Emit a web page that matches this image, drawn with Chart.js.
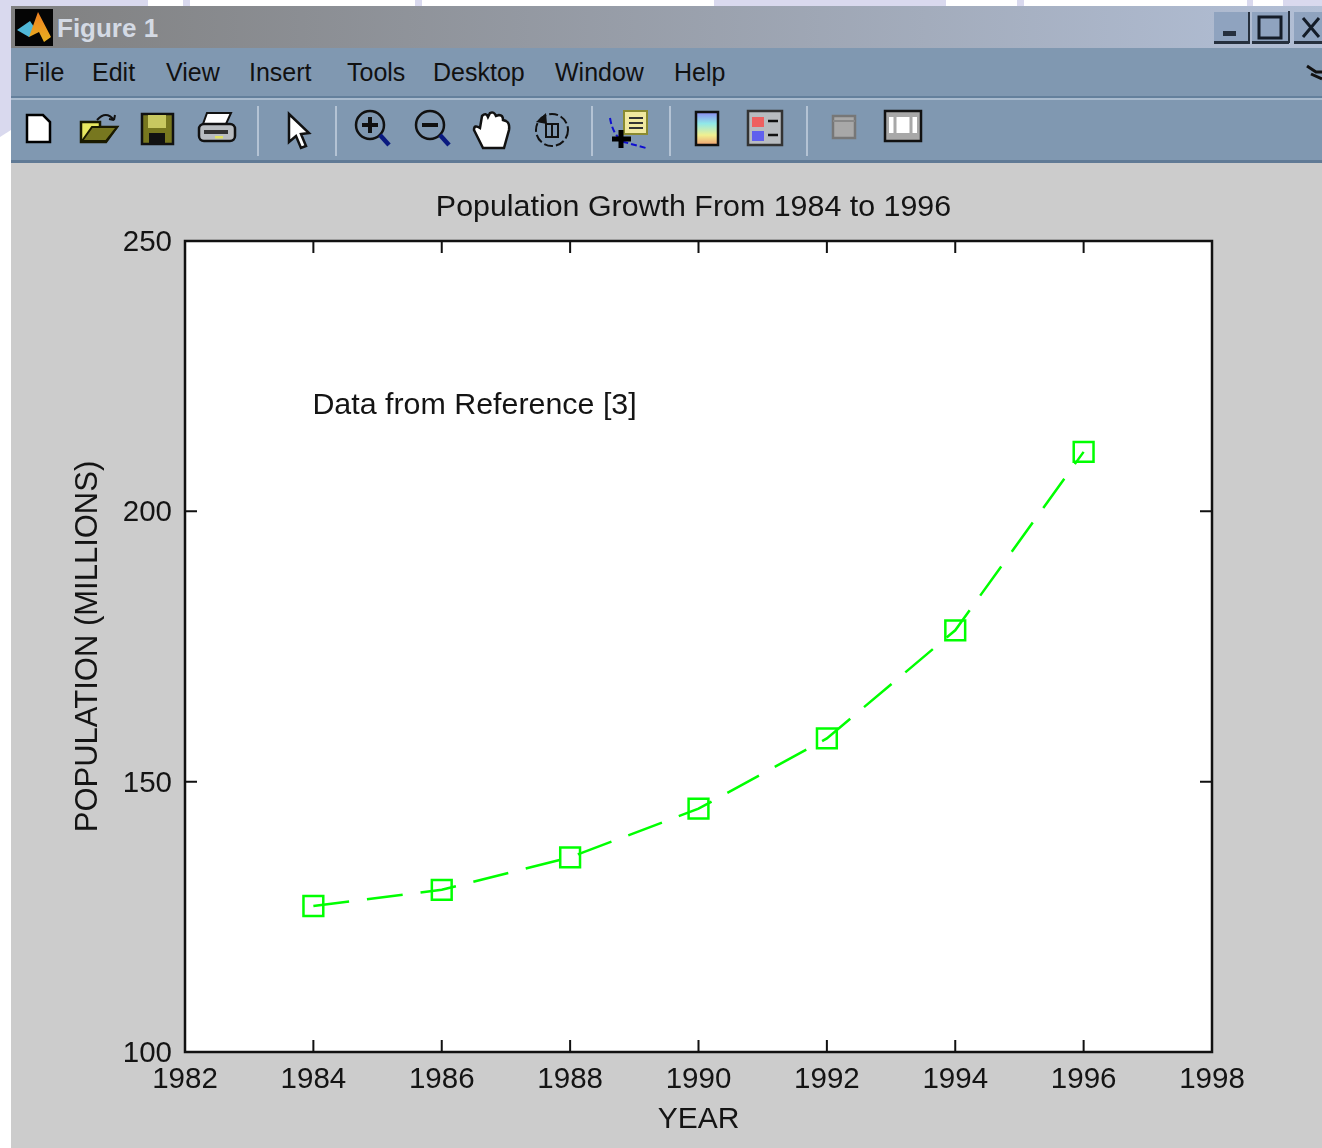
<!DOCTYPE html>
<html>
<head>
<meta charset="utf-8">
<title>Figure 1</title>
<script src="https://cdn.jsdelivr.net/npm/chart.js@4/dist/chart.umd.min.js"></script>
<style>
  html, body { margin: 0; padding: 0; background: #fff; }
  #page { position: relative; width: 1322px; height: 1148px; overflow: hidden; background: #fff; font-family: "Liberation Sans", sans-serif; }
  #page div, #page svg, #page canvas { position: absolute; }
  .lav { background: #d9d9ee; top: 0; height: 6px; }
  #titlebar { left: 11px; top: 6px; width: 1311px; height: 42px; background: linear-gradient(to right, #808080, #b2bfd6); }
  #titletext { left: 57px; top: 13px; color: #d4dae4; font: bold 26px "Liberation Sans", sans-serif; }
  #menubar { left: 11px; top: 48px; width: 1311px; height: 49px; background: #8098b1; }
  #toolbar { left: 11px; top: 96px; width: 1311px; height: 67px; background: #8098b1; border-top: 2px solid #64809c; border-bottom: 3px solid #607a95; box-sizing: border-box; box-shadow: inset 0 2px 0 #a9bbce; }
  #figure { left: 11px; top: 163px; width: 1311px; height: 985px; background: #cccccc; }
  .menu { top: 57px; font-size: 25px; line-height: 30px; color: #111; }
  #icons { left: 0; top: 0; filter: blur(0.5px); }
  #chart { left: 0; top: 0; filter: blur(0.4px); }
</style>
</head>
<body>
<div id="page">
  <svg style="left:0;top:0" width="11" height="140"><polygon points="0,0 11,0 11,130 0,137" fill="#d9d9ee"/></svg>
  <div class="lav" style="left:0;width:148px"></div>
  <div class="lav" style="left:183px;width:7px"></div>
  <div class="lav" style="left:415px;width:7px"></div>
  <div class="lav" style="left:714px;width:232px"></div>
  <div class="lav" style="left:1017px;width:7px"></div>
  <div class="lav" style="left:1247px;width:6px"></div>
  <div class="lav" style="left:1283px;width:39px"></div>

  <div id="titlebar"></div>
  <div id="titletext">Figure 1</div>
  <div id="menubar"></div>
  <div id="toolbar"></div>
  <div id="figure"></div>

  <div class="menu" style="left:24px">File</div>
  <div class="menu" style="left:92px">Edit</div>
  <div class="menu" style="left:166px">View</div>
  <div class="menu" style="left:249px">Insert</div>
  <div class="menu" style="left:347px">Tools</div>
  <div class="menu" style="left:433px">Desktop</div>
  <div class="menu" style="left:555px">Window</div>
  <div class="menu" style="left:674px">Help</div>

  <!-- window buttons and toolbar icons -->
  <svg id="icons" width="1322" height="165">
    <defs>
      <linearGradient id="cbar" x1="0" y1="0" x2="0" y2="1">
        <stop offset="0" stop-color="#8a8af0"/><stop offset=".35" stop-color="#90e8e8"/>
        <stop offset=".7" stop-color="#f0f090"/><stop offset="1" stop-color="#f0a070"/>
      </linearGradient>
      <linearGradient id="peak" x1="0" y1="0" x2="0" y2="1">
        <stop offset="0" stop-color="#f08020"/><stop offset="1" stop-color="#e8b020"/>
      </linearGradient>
    </defs>
    <!-- matlab logo -->
    <rect x="15" y="9" width="38" height="37" fill="#050505"/>
    <path d="M17 30 L30 21 L36 30 L29 37 Z" fill="#50b8d8"/>
    <path d="M29 37 L38 12 L51 37 L44 42 L39 32 Z" fill="url(#peak)"/>

    <!-- window buttons -->
    <g fill="#8fa3bf">
      <rect x="1214" y="12" width="36" height="31"/><rect x="1252" y="12" width="37" height="31"/><rect x="1294" y="12" width="28" height="31"/>
    </g>
    <g fill="#26303e">
      <rect x="1214" y="41" width="36" height="3"/><rect x="1252" y="41" width="37" height="3"/><rect x="1294" y="41" width="28" height="3"/>
      <rect x="1248" y="12" width="2" height="31"/><rect x="1288" y="11" width="2" height="32"/>
      <rect x="1223" y="31" width="13" height="5"/>
    </g>
    <rect x="1259" y="17" width="22" height="21" fill="none" stroke="#141c28" stroke-width="3"/>
    <path d="M1303 18 L1319 37 M1319 18 L1303 37" stroke="#141c28" stroke-width="3"/>
    <path d="M1307 66 L1316 72 L1322 72 M1311 74 L1322 79" stroke="#111" stroke-width="3" fill="none"/>

    <!-- separators -->
    <g fill="#b4c3d4">
      <rect x="257" y="106" width="2" height="50"/><rect x="335" y="106" width="2" height="50"/><rect x="591" y="106" width="2" height="50"/>
      <rect x="669" y="106" width="2" height="50"/><rect x="806" y="106" width="2" height="50"/>
    </g>

    <!-- new file -->
    <path d="M27 115 H43 L50 122 V142 H27 Z" fill="#fff" stroke="#000" stroke-width="2.5"/>
    <!-- open -->
    <path d="M81 141 V122 H100 V127 H117 L106 142 H81 Z" fill="#e8e860" stroke="#1a1a00" stroke-width="2.5"/>
    <path d="M82 141 L92 127 H117 L106 141 Z" fill="#77771f" stroke="#1a1a00" stroke-width="2"/>
    <path d="M97 120 Q106 110 114 120 M114 120 l-5 -1 M114 120 l1 -5" fill="none" stroke="#111" stroke-width="2"/>
    <!-- save -->
    <rect x="142" y="114" width="31" height="30" fill="#77771f" stroke="#111" stroke-width="2.5"/>
    <rect x="148" y="115" width="18" height="13" fill="#c8c860"/>
    <rect x="149" y="133" width="16" height="11" fill="#111"/>
    <!-- print -->
    <path d="M207 113 H231 L226 124 H203 Z" fill="#fff" stroke="#111" stroke-width="2"/>
    <rect x="199" y="124" width="36" height="17" rx="5" fill="#b8bcc0" stroke="#111" stroke-width="2.5"/>
    <rect x="204" y="130" width="24" height="4" fill="#333"/>
    <rect x="215" y="136" width="8" height="2.5" fill="#e0e060"/>
    <!-- pointer -->
    <path d="M289 114 V142 L296 136 L301 148 L306 146 L301 134 L309 133 Z" fill="#fff" stroke="#111" stroke-width="2.5"/>
    <!-- zoom in -->
    <circle cx="370" cy="125" r="14" fill="none" stroke="#111" stroke-width="2.5"/>
    <path d="M362 125 H378 M370 117 V133" stroke="#111" stroke-width="4"/>
    <path d="M380 135 L389 145" stroke="#0a1a80" stroke-width="4.5"/>
    <!-- zoom out -->
    <circle cx="430" cy="125" r="14" fill="none" stroke="#111" stroke-width="2.5"/>
    <path d="M422 125 H438" stroke="#111" stroke-width="4"/>
    <path d="M440 135 L449 145" stroke="#0a1a80" stroke-width="4.5"/>
    <!-- hand -->
    <path d="M483 148 L474 130 Q474 124 480 128 L482 116 Q486 112 488 117 L490 113 Q494 111 496 116 L499 115 Q503 115 503 120 L506 121 Q510 123 509 130 L504 148 Z" fill="#fff" stroke="#111" stroke-width="2.5"/>
    <!-- rotate -->
    <circle cx="552" cy="130" r="16" fill="none" stroke="#111" stroke-width="2" stroke-dasharray="9 3"/>
    <path d="M536 122 L546 113 L547 124 Z" fill="#111"/>
    <rect x="546" y="124" width="12" height="13" fill="none" stroke="#111" stroke-width="2"/>
    <path d="M552 124 V137" stroke="#111" stroke-width="2"/>
    <!-- data cursor / insert annotation -->
    <path d="M610 118 Q613 136 624 142 L646 148" fill="none" stroke="#0f0fd0" stroke-width="2" stroke-dasharray="6 3"/>
    <rect x="624" y="111" width="23" height="23" fill="#f0e8a0" stroke="#8a8a30" stroke-width="2"/>
    <path d="M629 118 H643 M629 123 H643 M629 128 H643" stroke="#333" stroke-width="2"/>
    <path d="M612 139 H631 M621 130 V148" stroke="#000" stroke-width="5"/>
    <!-- colorbar -->
    <rect x="696" y="112" width="22" height="33" fill="url(#cbar)" stroke="#111" stroke-width="2.5"/>
    <!-- legend -->
    <rect x="748" y="111" width="34" height="34" fill="#b8bcc0" stroke="#333" stroke-width="2.5"/>
    <rect x="752" y="117" width="12" height="10" fill="#ee6060"/><rect x="752" y="131" width="12" height="10" fill="#6060ee"/>
    <path d="M768 121 H778 M768 135 H778" stroke="#111" stroke-width="2.5"/>
    <!-- hide/show plot tools -->
    <rect x="833" y="116" width="22" height="22" fill="#a8a8a8" stroke="#777" stroke-width="2.5"/>
    <path d="M833 121 H855" stroke="#888" stroke-width="2"/>
    <rect x="885" y="111" width="36" height="30" fill="#a8a8a8" stroke="#111" stroke-width="2.5"/>
    <rect x="889" y="117" width="28" height="16" fill="#fff"/>
    <path d="M895 117 V133 M911 117 V133" stroke="#a8a8a8" stroke-width="3"/>
  </svg>

  <canvas id="chart" width="1322" height="1148"></canvas>
</div>

<script>
// values
const years = [1984, 1986, 1988, 1990, 1992, 1994, 1996];
const population = [127, 130, 136, 145, 158, 178, 211];

const chartTitle = 'Population Growth From 1984 to 1996';
const xLabel = 'YEAR';
const yLabel = 'POPULATION (MILLIONS)';
const note = 'Data from Reference [3]';
const noteAt = { x: 1984, y: 220 };

const fontName = '"Liberation Sans", sans-serif';
const textColor = '#141414';

// white plot area, box round it and inward ticks on all four sides
const matlabAxes = {
  id: 'matlabAxes',
  beforeDatasetsDraw(chart) {
    const a = chart.chartArea;
    const c = chart.ctx;
    c.save();
    c.fillStyle = '#fff';
    c.fillRect(a.left, a.top, a.right - a.left, a.bottom - a.top);
    c.restore();
  },
  afterDatasetsDraw(chart) {
    const a = chart.chartArea;
    const c = chart.ctx;
    const len = 12;
    c.save();
    c.strokeStyle = '#111';
    c.lineWidth = 2.5;
    c.strokeRect(a.left, a.top, a.right - a.left, a.bottom - a.top);
    c.beginPath();
    chart.scales.x.ticks.forEach((t) => {
      const px = chart.scales.x.getPixelForValue(t.value);
      c.moveTo(px, a.bottom); c.lineTo(px, a.bottom - len);
      c.moveTo(px, a.top); c.lineTo(px, a.top + len);
    });
    chart.scales.y.ticks.forEach((t) => {
      const py = chart.scales.y.getPixelForValue(t.value);
      c.moveTo(a.left, py); c.lineTo(a.left + len, py);
      c.moveTo(a.right, py); c.lineTo(a.right - len, py);
    });
    c.lineWidth = 2;
    c.stroke();
    c.fillStyle = textColor;
    c.textBaseline = 'middle';
    c.font = '30.4px ' + fontName;
    c.textAlign = 'left';
    c.fillText(note, chart.scales.x.getPixelForValue(noteAt.x) - 1, chart.scales.y.getPixelForValue(noteAt.y) + 2);
    c.textAlign = 'center';
    c.fillText(chartTitle, 693.5, 208);
    c.restore();
  }
};

new Chart(document.getElementById('chart').getContext('2d'), {
  type: 'line',
  data: {
    datasets: [{
      data: years.map((y, i) => ({ x: y, y: population[i] })),
      borderColor: '#00ff00',
      borderWidth: 2.5,
      borderDash: [36, 18],
      backgroundColor: 'transparent',
      tension: 0,
      pointStyle: 'rect',
      pointRadius: 14,
      pointBorderWidth: 2.5,
      pointBorderColor: '#00ff00',
      pointBackgroundColor: 'transparent'
    }]
  },
  options: {
    responsive: false,
    animation: false,
    layout: { padding: { left: 0, right: 110, top: 241, bottom: 0 } },
    plugins: {
      legend: { display: false },
      tooltip: { enabled: false }
    },
    scales: {
      x: {
        type: 'linear',
        min: 1982,
        max: 1998,
        grid: { drawOnChartArea: false, drawTicks: false },
        border: { color: '#111', width: 2 },
        ticks: {
          stepSize: 2,
          padding: 10,
          color: textColor,
          maxRotation: 0,
          font: { family: fontName, size: 29.5 },
          callback: (v) => String(v)
        },
        title: {
          display: true,
          text: xLabel,
          color: textColor,
          font: { family: fontName, size: 30, lineHeight: 1.2 },
          padding: { top: 0, bottom: 10 }
        },
        afterFit: (s) => { s.height = 96; }
      },
      y: {
        min: 100,
        max: 250,
        grid: { drawOnChartArea: false, drawTicks: false },
        border: { color: '#111', width: 2 },
        ticks: {
          stepSize: 50,
          padding: 13,
          labelOffset: 2,
          color: textColor,
          font: { family: fontName, size: 29.5 },
          callback: (v) => String(v)
        },
        title: {
          display: true,
          text: yLabel,
          color: textColor,
          font: { family: fontName, size: 31, lineHeight: 1.2 },
          padding: { top: 70, bottom: 0 }
        },
        afterFit: (s) => { s.width = 185; }
      }
    }
  },
  plugins: [matlabAxes]
});
</script>
</body>
</html>
